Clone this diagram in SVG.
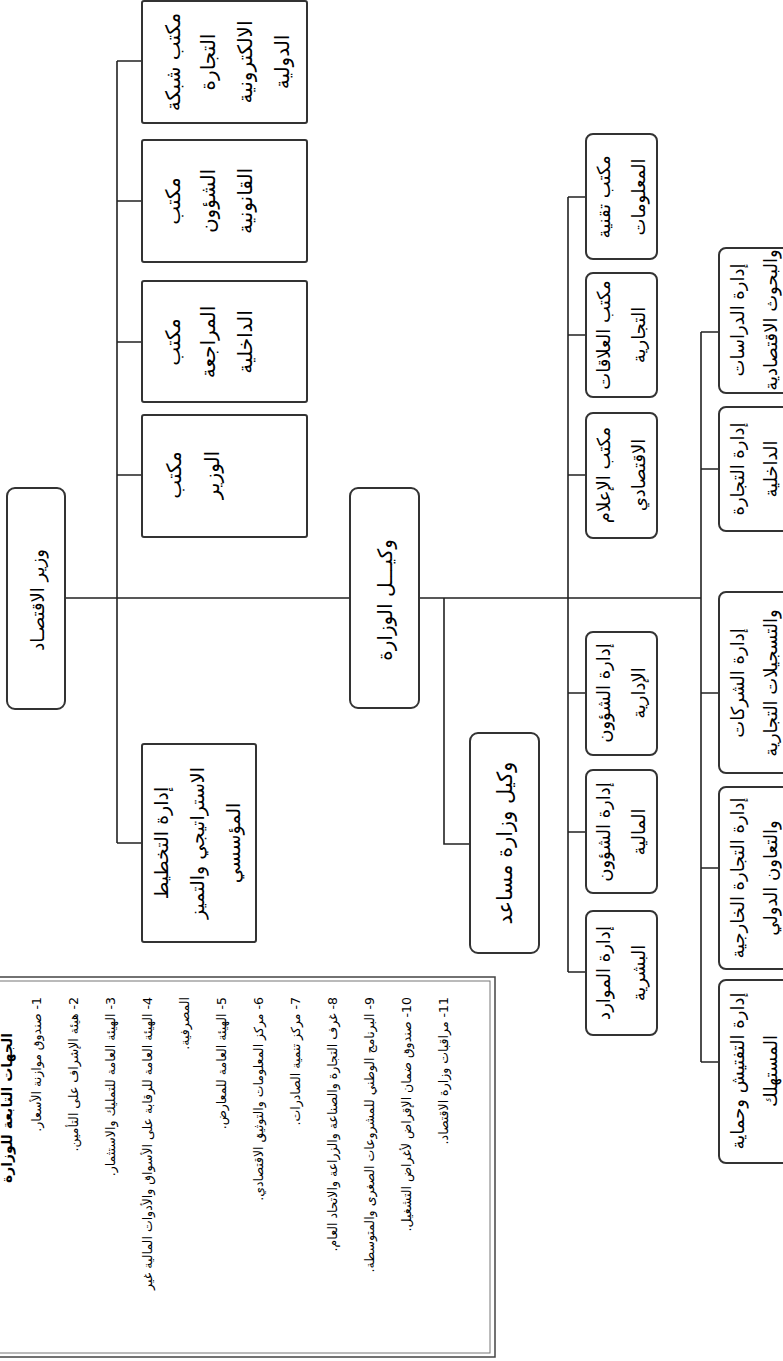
<svg xmlns="http://www.w3.org/2000/svg" width="783" height="1361" viewBox="0 0 783 1361">
<style>
.box{fill:#fff;stroke:#333;stroke-width:2}
.ln{stroke:#222;stroke-width:1.6;fill:none}
text{font-family:"DejaVu Sans",sans-serif;fill:#000;dominant-baseline:central;text-anchor:middle;direction:rtl}
.s18{font-size:18px}
.s19{font-size:19px}
.s20{font-size:20px}
.s21{font-size:21px}
.lg{font-size:12.5px;text-anchor:start}
.ttl{font-size:14px;font-weight:bold;text-anchor:start}
</style>
<rect width="783" height="1361" fill="#fff"/>
<g id="connectors">
<path class="ln" d="M65 598H350M117 61V843M117 61H142M117 201H142M117 342H142M117 475H142M117 843H142"/>
<path class="ln" d="M419 598H701M444 598V844H470"/>
<path class="ln" d="M568 197V972M568 197H586M568 335H586M568 475H586M568 693H586M568 832H586M568 972H586"/>
<path class="ln" d="M701 332V1062M701 332H719M701 469H719M701 693H719M701 868H719M701 1062H719"/>
</g>
<g id="minister">
<rect class="box" x="7" y="488" width="58" height="221" rx="8"/>
<text class="s18" transform="translate(37,600) rotate(-90)">وزير  الاقتصـاد</text>
</g>
<g id="office-etrade">
<rect class="box" x="142" y="1" width="165" height="122" rx="2"/>
<text class="s20" transform="translate(173,62) rotate(-90)">مكتب شبكة</text>
<text class="s20" transform="translate(208,62) rotate(-90)">التجارة</text>
<text class="s20" transform="translate(245,62) rotate(-90)">الالكترونية</text>
<text class="s20" transform="translate(282,62) rotate(-90)">الدولية</text>
</g>
<g id="office-legal">
<rect class="box" x="142" y="140" width="165" height="122" rx="2"/>
<text class="s20" transform="translate(173,201) rotate(-90)">مكتب</text>
<text class="s20" transform="translate(208,201) rotate(-90)">الشؤون</text>
<text class="s20" transform="translate(245,201) rotate(-90)">القانونية</text>
</g>
<g id="office-audit">
<rect class="box" x="142" y="281" width="165" height="121" rx="2"/>
<text class="s20" transform="translate(173,342) rotate(-90)">مكتب</text>
<text class="s20" transform="translate(208,342) rotate(-90)">المراجعة</text>
<text class="s20" transform="translate(245,342) rotate(-90)">الداخلية</text>
</g>
<g id="office-minister">
<rect class="box" x="142" y="415" width="165" height="122" rx="2"/>
<text class="s20" transform="translate(174,475) rotate(-90)">مكتب</text>
<text class="s20" transform="translate(212,475) rotate(-90)">الوزير</text>
</g>
<g id="planning">
<rect class="box" x="142" y="744" width="114" height="198" rx="2"/>
<text class="s19" transform="translate(161,843) rotate(-90)">إدارة التخطيط</text>
<text class="s19" transform="translate(197,843) rotate(-90)">الاستراتيجي والتميز</text>
<text class="s19" transform="translate(233,843) rotate(-90)">المؤسسي</text>
</g>
<g id="deputy">
<rect class="box" x="350" y="488" width="69" height="220" rx="8"/>
<text class="s20" transform="translate(385,600) rotate(-90)">وكيـــل الوزارة</text>
</g>
<g id="assistant">
<rect class="box" x="470" y="733" width="69" height="220" rx="8"/>
<text class="s21" transform="translate(505,843) rotate(-90)">وكيل وزارة مساعد</text>
</g>
<g id="it-office">
<rect class="box" x="586" y="134" width="71" height="125" rx="7"/>
<text class="s18" transform="translate(603,197) rotate(-90)">مكتب تقنية</text>
<text class="s18" transform="translate(638,197) rotate(-90)">المعلومات</text>
</g>
<g id="trade-relations">
<rect class="box" x="586" y="273" width="71" height="124" rx="7"/>
<text class="s18" transform="translate(603,335) rotate(-90)">مكتب العلاقات</text>
<text class="s18" transform="translate(638,335) rotate(-90)">التجارية</text>
</g>
<g id="media-office">
<rect class="box" x="586" y="413" width="71" height="125" rx="7"/>
<text class="s18" transform="translate(603,475) rotate(-90)">مكتب الإعلام</text>
<text class="s18" transform="translate(638,475) rotate(-90)">الاقتصادي</text>
</g>
<g id="admin-affairs">
<rect class="box" x="586" y="632" width="71" height="123" rx="7"/>
<text class="s18" transform="translate(603,693) rotate(-90)">إدارة الشؤون</text>
<text class="s18" transform="translate(638,693) rotate(-90)">الإدارية</text>
</g>
<g id="finance-affairs">
<rect class="box" x="586" y="770" width="71" height="123" rx="7"/>
<text class="s18" transform="translate(603,832) rotate(-90)">إدارة الشؤون</text>
<text class="s18" transform="translate(638,832) rotate(-90)">المالية</text>
</g>
<g id="hr">
<rect class="box" x="586" y="911" width="71" height="124" rx="7"/>
<text class="s18" transform="translate(603,973) rotate(-90)">إدارة الموارد</text>
<text class="s18" transform="translate(638,973) rotate(-90)">البشرية</text>
</g>
<g id="studies">
<rect class="box" x="719" y="248" width="72" height="145" rx="7"/>
<text class="s18" transform="translate(737,320) rotate(-90)">إدارة الدراسات</text>
<text class="s18" transform="translate(770,320) rotate(-90)">والبحوث الاقتصادية</text>
</g>
<g id="domestic-trade">
<rect class="box" x="719" y="407" width="72" height="124" rx="7"/>
<text class="s18" transform="translate(737,469) rotate(-90)">إدارة التجارة</text>
<text class="s18" transform="translate(770,469) rotate(-90)">الداخلية</text>
</g>
<g id="companies">
<rect class="box" x="719" y="592" width="72" height="181" rx="7"/>
<text class="s18" transform="translate(737,683) rotate(-90)">إدارة الشركات</text>
<text class="s18" transform="translate(770,683) rotate(-90)">والتسجيلات التجارية</text>
</g>
<g id="foreign-trade">
<rect class="box" x="719" y="787" width="72" height="182" rx="7"/>
<text class="s18" transform="translate(737,878) rotate(-90)">إدارة التجارة الخارجية</text>
<text class="s18" transform="translate(770,878) rotate(-90)">والتعاون الدولي</text>
</g>
<g id="inspection">
<rect class="box" x="719" y="980" width="72" height="183" rx="7"/>
<text class="s18" transform="translate(737,1071) rotate(-90)">إدارة التفتيش وحماية</text>
<text class="s18" transform="translate(770,1071) rotate(-90)">المستهلك</text>
</g>
<g id="legend">
<rect x="-4" y="977" width="499" height="380" fill="#fff" stroke="#444" stroke-width="1.5"/>
<rect x="-4" y="981" width="494" height="372" fill="none" stroke="#777" stroke-width="1"/>
<text class="ttl" transform="translate(7,1033) rotate(-90)">الجهات التابعة للوزارة</text>
<text class="lg" transform="translate(36,997) rotate(-90)">1- صندوق موازنة الأسعار.</text>
<text class="lg" transform="translate(73,997) rotate(-90)">2- هيئة الإشراف على التأمين.</text>
<text class="lg" transform="translate(110,997) rotate(-90)">3- الهيئة العامة للتمليك والاستثمار.</text>
<text class="lg" transform="translate(147,997) rotate(-90)">4- الهيئة العامة للرقابة على الأسواق والأدوات المالية غير</text>
<text class="lg" transform="translate(184,997) rotate(-90)">المصرفية.</text>
<text class="lg" transform="translate(221,997) rotate(-90)">5- الهيئة العامة للمعارض.</text>
<text class="lg" transform="translate(258,997) rotate(-90)">6- مركز المعلومات والتوثيق الاقتصادي.</text>
<text class="lg" transform="translate(295,997) rotate(-90)">7- مركز تنمية الصادرات.</text>
<text class="lg" transform="translate(332,997) rotate(-90)">8- غرف التجارة والصناعة والزراعة والاتحاد العام.</text>
<text class="lg" transform="translate(369,997) rotate(-90)">9- البرنامج الوطني للمشروعات الصغرى والمتوسطة.</text>
<text class="lg" transform="translate(406,997) rotate(-90)">10- صندوق ضمان الإقراض لأغراض التشغيل.</text>
<text class="lg" transform="translate(443,997) rotate(-90)">11- مراقبات وزارة الاقتصاد.</text>
</g>
</svg>
